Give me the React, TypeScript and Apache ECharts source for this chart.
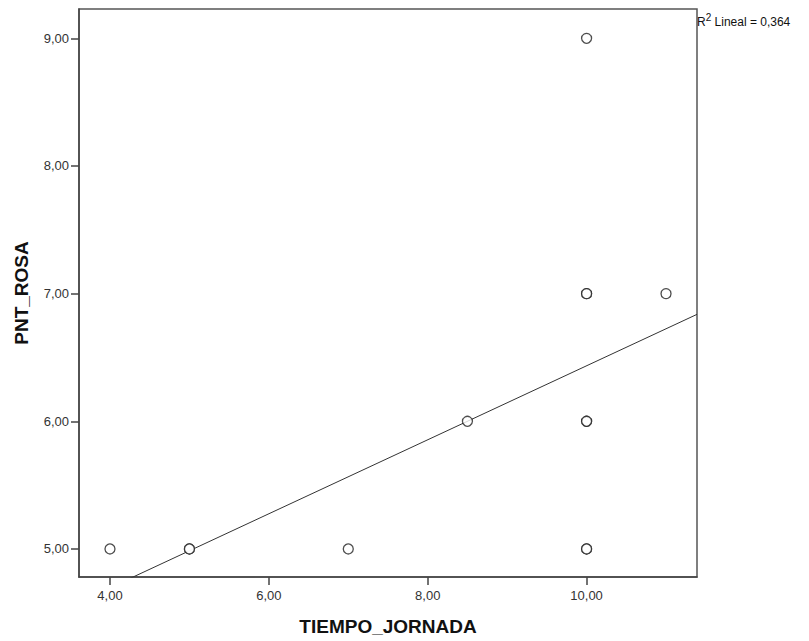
import React, { useEffect, useRef } from "react";
import * as echarts from "echarts";

const xValues = [4, 5, 5, 7, 8.5, 10, 10, 10, 10, 10, 10, 10, 11];
const yValues = [5, 5, 5, 5, 6, 5, 5, 6, 6, 7, 7, 9, 7];
const xTicks = [4, 6, 8, 10];
const yTicks = [5, 6, 7, 8, 9];
const xRange = [3.61, 11.39];
const yRange = [4.78, 9.23];
const r2Text = "0,364";
const xName = "TIEMPO_JORNADA";
const yName = "PNT_ROSA";

function fit() {
  const n = xValues.length;
  const mx = xValues.reduce((a, b) => a + b, 0) / n;
  const my = yValues.reduce((a, b) => a + b, 0) / n;
  let sxy = 0, sxx = 0;
  for (let i = 0; i < n; i++) {
    sxy += (xValues[i] - mx) * (yValues[i] - my);
    sxx += (xValues[i] - mx) ** 2;
  }
  const b = sxy / sxx;
  return { a: my - b * mx, b };
}

const fmt = (v: number) => v.toFixed(2).replace(".", ",");

export default function App() {
  const ref = useRef<HTMLDivElement>(null);
  useEffect(() => {
    if (!ref.current) return;
    const chart = echarts.init(ref.current, null, { renderer: "svg" });
    const { a, b } = fit();
    const lineData = xRange.map((x) => [x, a + b * x]);
    const font = "'Liberation Sans', Arial, sans-serif";
    chart.setOption({
      animation: false,
      backgroundColor: "#fff",
      textStyle: { fontFamily: font },
      grid: {
        left: 79,
        top: 9,
        right: 112,
        bottom: 63,
        show: true,
        borderColor: "#555",
        borderWidth: 1.5,
        backgroundColor: "transparent",
      },
      xAxis: {
        type: "value",
        min: xRange[0],
        max: xRange[1],
        name: xName,
        nameLocation: "middle",
        nameGap: 40,
        nameTextStyle: { fontSize: 19, fontWeight: "bold", color: "#111", fontFamily: font },
        axisLine: { show: true, lineStyle: { color: "#444", width: 1.5 } },
        axisTick: { show: true, length: 8, customValues: xTicks, lineStyle: { color: "#444", width: 1.5 } },
        axisLabel: { customValues: xTicks, formatter: fmt, fontSize: 13, color: "#333", margin: 12, fontFamily: font },
        splitLine: { show: false },
      },
      yAxis: {
        type: "value",
        min: yRange[0],
        max: yRange[1],
        name: yName,
        nameLocation: "middle",
        nameGap: 48,
        nameTextStyle: { fontSize: 19, fontWeight: "bold", color: "#111", fontFamily: font },
        axisLine: { show: true, lineStyle: { color: "#444", width: 1.5 } },
        axisTick: { show: true, length: 8, customValues: yTicks, lineStyle: { color: "#444", width: 1.5 } },
        axisLabel: { customValues: yTicks, formatter: fmt, fontSize: 13, color: "#333", margin: 10, fontFamily: font },
        splitLine: { show: false },
      },
      series: [
        {
          type: "line",
          data: lineData,
          showSymbol: false,
          symbol: "none",
          clip: true,
          lineStyle: { color: "#333", width: 1 },
          z: 2,
        },
        {
          type: "scatter",
          data: xValues.map((x, i) => [x, yValues[i]]),
          symbol: "circle",
          symbolSize: 10,
          itemStyle: { color: "#fff", borderColor: "#222", borderWidth: 1.3 },
          z: 3,
        },
      ],
      graphic: [
        {
          type: "text",
          left: 697,
          top: 12,
          style: {
            text: "{n|R}{s|2}{n| Lineal = " + r2Text + "}",
            rich: {
              n: { fontSize: 12, fill: "#111", fontFamily: font, verticalAlign: "bottom", lineHeight: 16 },
              s: { fontSize: 10, fill: "#111", fontFamily: font, verticalAlign: "top", lineHeight: 16, padding: [0, 0, 6, 0] },
            },
          },
        },
      ],
    });
    return () => chart.dispose();
  }, []);
  return (
    <div
      ref={ref}
      style={{ position: "fixed", left: 0, top: 0, width: 809, height: 641 }}
    />
  );
}
